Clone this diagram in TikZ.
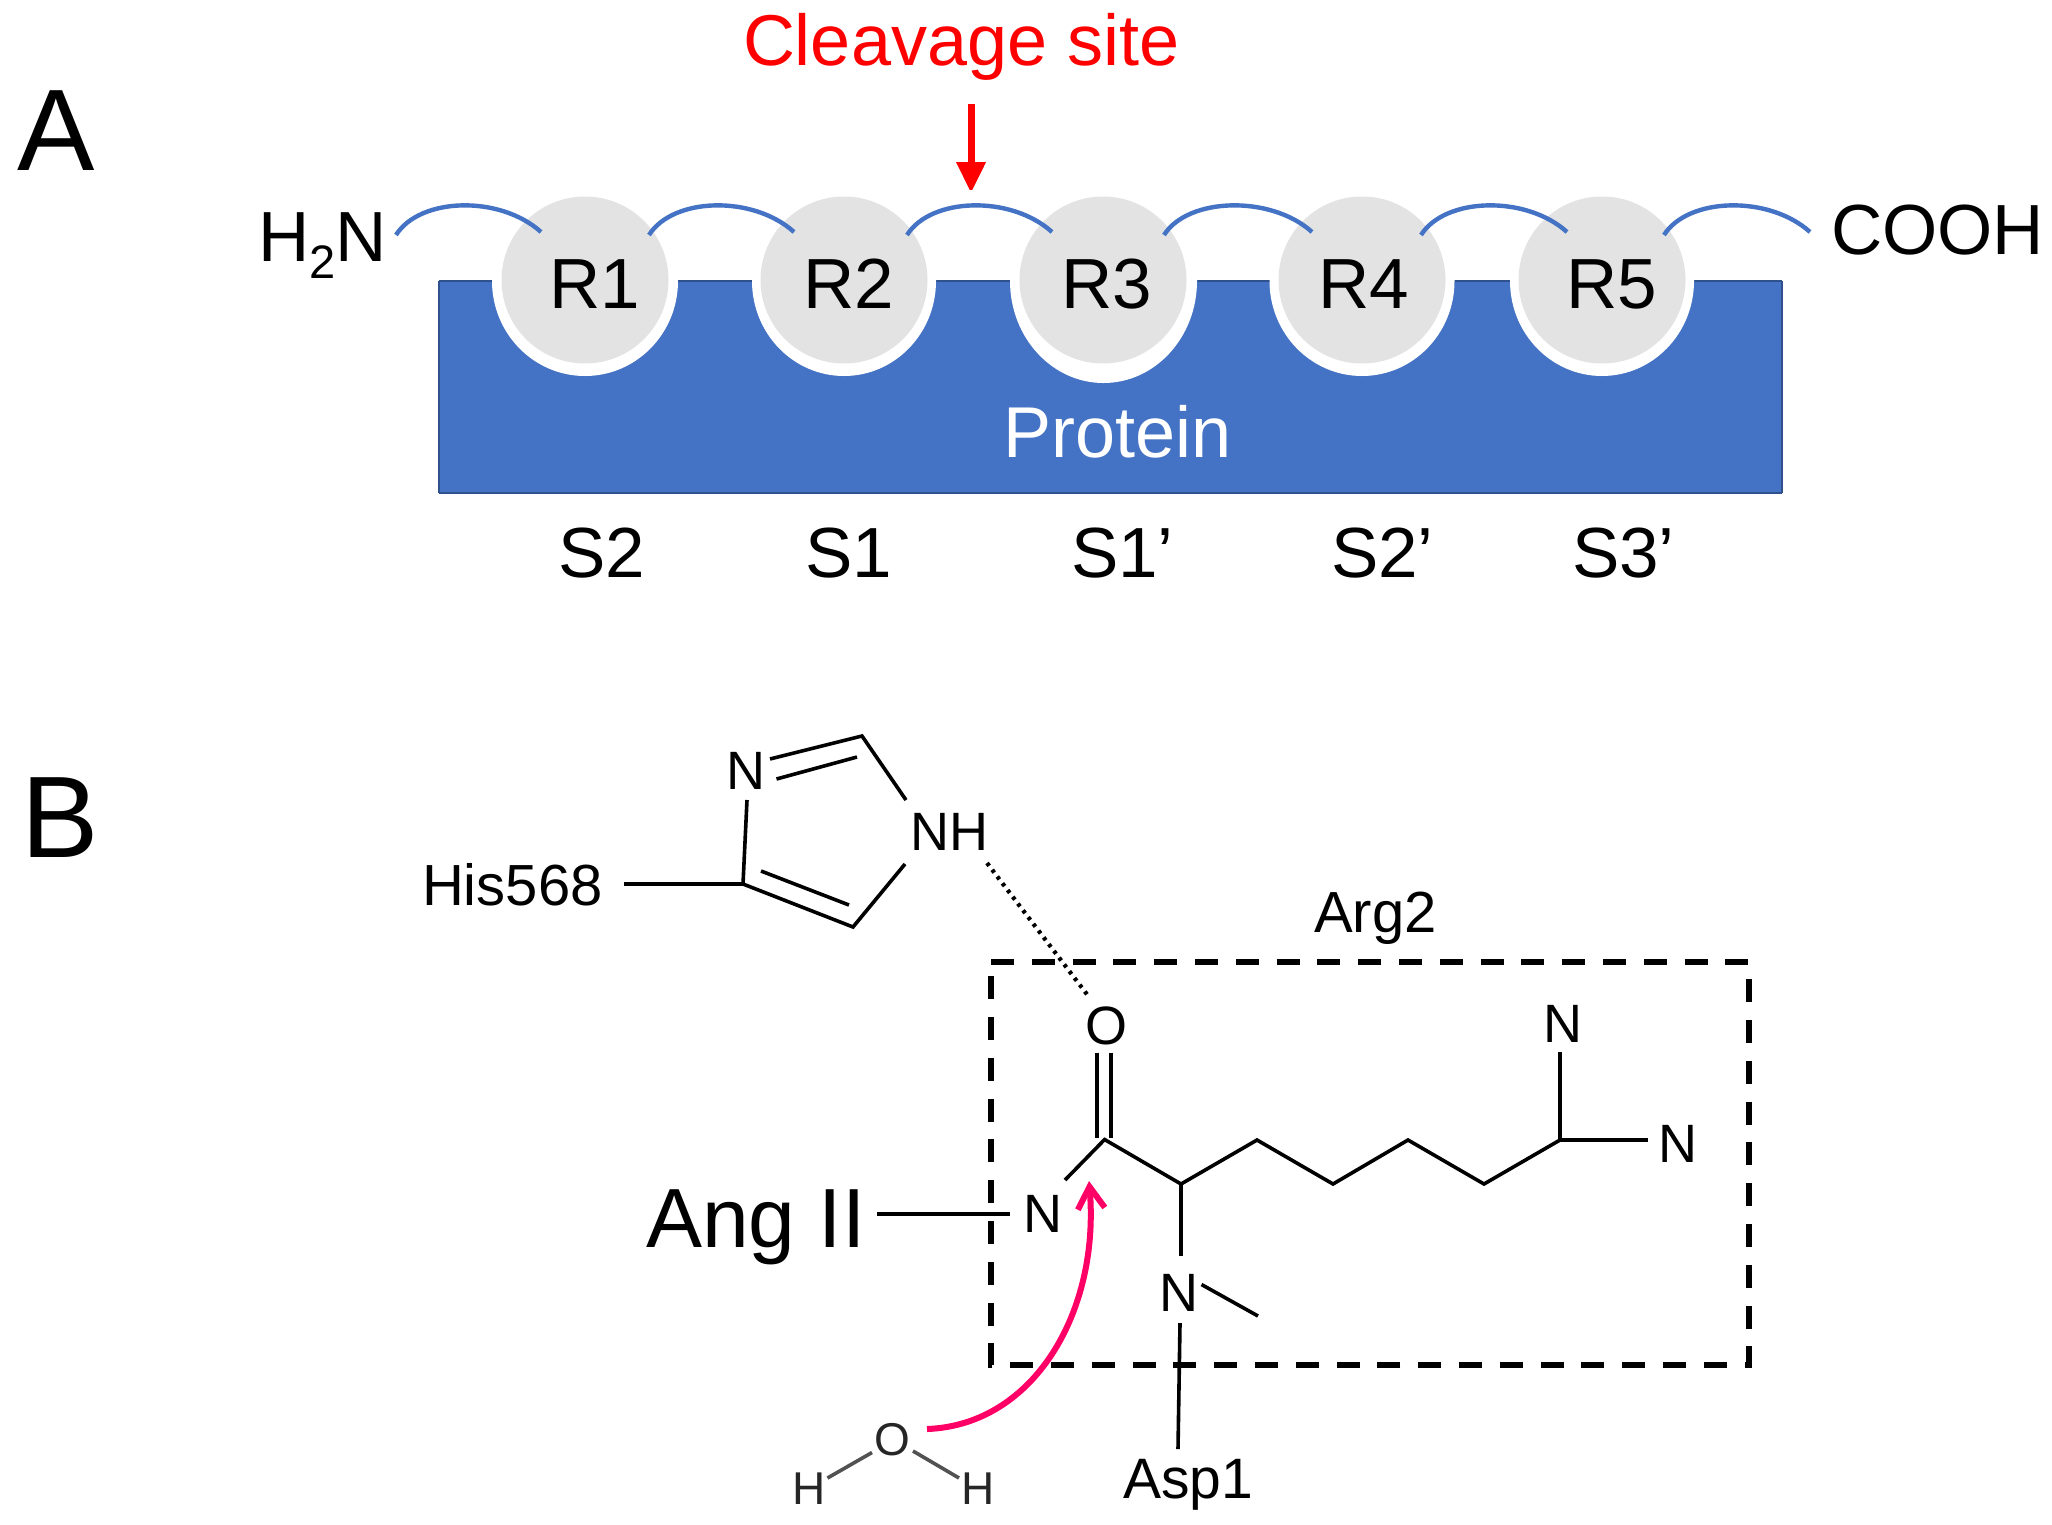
\documentclass[tikz,border=0pt]{standalone}
\usepackage{fontspec}
\setmainfont{Liberation Sans}
\usetikzlibrary{arrows.meta,shapes.geometric}
\definecolor{protblue}{HTML}{4472C4}
\definecolor{protedge}{HTML}{2F528F}
\definecolor{resgrey}{HTML}{E3E3E3}
\definecolor{attack}{HTML}{FF0066}
\newcommand{\fs}[1]{\fontsize{#1}{#1}\selectfont}
\tikzset{
  x=1pt,y=-1pt,
  txt/.style={inner sep=0pt,outer sep=0pt,anchor=base west},
  big/.style={txt,font=\fs{71}},
  panel/.style={txt,font=\fs{116}},
  atom/.style={txt,font=\fs{54}},
  small/.style={txt,font=\fs{58}},
  link/.style={draw=protblue,line width=4.4pt},
  halo/.style={ellipse,fill=white,inner sep=0pt},
  res/.style={circle,fill=resgrey,inner sep=0pt,minimum size=167pt},
  bond/.style={draw=black,line width=3.6pt},
  wbond/.style={draw=black!68,line width=3.6pt}
}
\begin{document}
\begin{tikzpicture}
\useasboundingbox (0,0) rectangle (2052,1524);
% panel A
\node[panel] (A) at (17,170) {A};
\node[panel] (B) at (21,857) {B};
\node[txt,font=\fs{72},text=red] (cleave) at (743,65) {Cleavage site};
\coordinate (arrS) at (971,104);
\coordinate (arrE) at (971,193);
\draw[draw=red,line width=7pt,-{Triangle[length=31pt,width=28pt]}] (arrS) -- (arrE);
\fill[protblue] (439,281) rectangle (1782,493);
\draw[protedge,line width=2pt] (439,281) -- (1782,281) (439,493) -- (1782,493) (439,281) -- (439,493) (1782,281) -- (1782,493);
\node[halo,minimum width=186pt,minimum height=190pt] (h1) at (585,281) {};
\node[halo,minimum width=184pt,minimum height=190pt] (h2) at (844,281) {};
\node[halo,minimum width=187pt,minimum height=204pt] (h3) at (1103.5,281) {};
\node[halo,minimum width=185pt,minimum height=190pt] (h4) at (1362,281) {};
\node[halo,minimum width=184pt,minimum height=190pt] (h5) at (1602,281) {};
\fill[white] (480,190) rectangle (1700,280);
\node[res] (c1) at (585,280) {};
\node[res] (c2) at (844,280) {};
\node[res] (c3) at (1103,280) {};
\node[res] (c4) at (1362,280) {};
\node[res] (c5) at (1602,280) {};
\node[big] (r1) at (549,308) {R1};
\node[big] (r2) at (803,308) {R2};
\node[big] (r3) at (1061,308) {R3};
\node[big] (r4) at (1318,308) {R4};
\node[big] (r5) at (1566,308) {R5};
\node[txt,font=\fs{72},text=white] (prot) at (1003,457) {Protein};
\node[big] (nterm) at (258,261) {H\raisebox{-17pt}{\fs{47}2}N};
\node[big] (cterm) at (1831,254) {COOH};
\foreach \n/\a/\b in {0/396/541,1/649/794,2/907/1052,3/1164/1312,4/1421/1567,5/1664/1810}{
  \coordinate (la\n) at (\a,235);
  \coordinate (lb\n) at (\b,232);
  \draw[link] (la\n) .. controls +(24,-38) and +(-41,-37) .. (lb\n);
}
\node[big] (s2) at (558,577) {S2};
\node[big] (s1) at (805,577) {S1};
\node[big] (s1p) at (1071,577) {S1’};
\node[big] (s2p) at (1331,577) {S2’};
\node[big] (s3p) at (1572,577) {S3’};
% panel B: imidazole
\node[atom] (Nring) at (726,789) {N};
\node[atom] (NH) at (910,850) {NH};
\node[small] (his) at (422,905) {His568};
\coordinate (im1) at (862,736);
\coordinate (im2) at (853,927);
\coordinate (im3) at (743,884);
\coordinate (db1a) at (770,759);
\coordinate (db2a) at (776.5,779);
\coordinate (db2b) at (857,757);
\coordinate (nh1) at (906,800);
\coordinate (nh2) at (905,864);
\coordinate (db3a) at (849,905);
\coordinate (db3b) at (761,871);
\coordinate (nr) at (747,800);
\coordinate (hisE) at (623.5,884);
\draw[bond] (db1a) -- (im1) -- (nh1);
\draw[bond] (db2a) -- (db2b);
\draw[bond] (nh2) -- (im2) -- (im3) -- (nr);
\draw[bond] (db3a) -- (db3b);
\draw[bond] (hisE) -- (im3);
% dashed residue box
\draw[line width=5.6pt,dash pattern=on 23pt off 17.8pt] (991,962) -- (1749,962) -- (1749,1365) -- (991,1365) -- cycle;
\node[small] (arg) at (1314,932) {Arg2};
\node[atom] (O) at (1085,1044) {O};
\coordinate (hbS) at (987,863);
\coordinate (hbE) at (1089,997);
\draw[line width=4.2pt,dash pattern=on 3.5pt off 5pt] (hbS) -- (hbE);
% backbone
\coordinate (C) at (1104.6,1139.5);
\coordinate (CN) at (1065,1180);
\coordinate (CA) at (1181,1184);
\coordinate (g1) at (1257,1140);
\coordinate (g2) at (1333,1184);
\coordinate (g3) at (1408,1140);
\coordinate (g4) at (1484,1184);
\coordinate (g5) at (1560,1140);
\coordinate (g5u) at (1560,1052);
\coordinate (g5r) at (1648,1140);
\coordinate (CAd) at (1181,1256);
\coordinate (me1) at (1201.5,1284.5);
\coordinate (me2) at (1258,1316);
\coordinate (nd1) at (1180,1323);
\coordinate (nd2) at (1178,1449);
\coordinate (co1a) at (1097,1052.5);
\coordinate (co1b) at (1097,1138);
\coordinate (co2a) at (1111,1052.5);
\coordinate (co2b) at (1111,1138);
\coordinate (angS) at (877,1214);
\coordinate (angE) at (1010,1214);
\draw[bond] (co1a) -- (co1b);
\draw[bond] (co2a) -- (co2b);
\draw[bond] (CN) -- (C) -- (CA) -- (g1) -- (g2) -- (g3) -- (g4) -- (g5) -- (g5u);
\draw[bond] (g5) -- (g5r);
\draw[bond] (CA) -- (CAd);
\draw[bond] (me1) -- (me2);
\draw[bond] (nd1) -- (nd2);
\draw[bond] (angS) -- (angE);
\node[atom] (Nleft) at (1023,1232) {N};
\node[atom] (Nmid) at (1159,1311) {N};
\node[atom] (Ntop) at (1543,1042) {N};
\node[atom] (Nright) at (1658,1162) {N};
\node[txt,font=\fs{84}] (ang) at (646,1247) {Ang II};
\node[txt,font=\fs{57}] (asp) at (1123,1498) {Asp1};
% water
\node[txt,font=\fs{46},text=black!85] (wO) at (874,1455) {O};
\node[txt,font=\fs{46},text=black!85] (wH1) at (792,1504) {H};
\node[txt,font=\fs{46},text=black!85] (wH2) at (961,1504) {H};
\coordinate (w1a) at (827.5,1478);
\coordinate (w1b) at (872,1452.5);
\coordinate (w2a) at (913,1451);
\coordinate (w2b) at (959,1478);
\draw[wbond] (w1a) -- (w1b);
\draw[wbond] (w2a) -- (w2b);
\coordinate (atkS) at (927,1429);
\coordinate (atkE) at (1089,1181);
\draw[draw=attack,line width=6pt,-{Straight Barb[length=22pt,width=27pt]}] (atkS) .. controls (1035,1425) and (1100,1310) .. (atkE);
\end{tikzpicture}
\end{document}
